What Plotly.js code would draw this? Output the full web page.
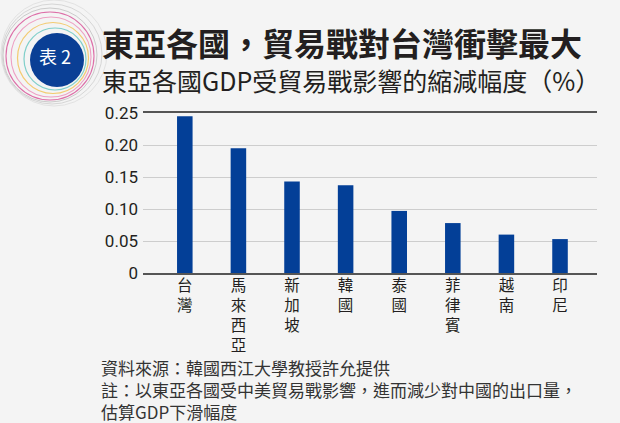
<!DOCTYPE html>
<html>
<head>
<meta charset="utf-8">
<script src="https://cdn.plot.ly/plotly-3.0.1.min.js"></script>
<style>
  html, body { margin: 0; padding: 0; background: #f4f4f4; }
  #chart { width: 620px; height: 423px; }
</style>
</head>
<body>
<div id="chart"></div>
<script>
// ---- data ----
const categories = ['台灣', '馬來西亞', '新加坡', '韓國', '泰國', '菲律賓', '越南', '印尼'];
const gdpDecline = [0.245, 0.195, 0.143, 0.137, 0.097, 0.078, 0.060, 0.053];
const yTickVals = [0, 0.05, 0.10, 0.15, 0.20, 0.25];
const yTickText = ['0', '0.05', '0.10', '0.15', '0.20', '0.25'];
const titleText = '東亞各國，貿易戰對台灣衝擊最大';
const subtitleText = '東亞各國GDP受貿易戰影響的縮減幅度（%）';
const badgeText = '表 2';
const footerLines = [
  '資料來源：韓國西江大學教授許允提供',
  '註：以東亞各國受中美貿易戰影響，進而減少對中國的出口量，',
  '估算GDP下滑幅度'
];

// ---- layout helpers (pixel -> paper) ----
const L = 143, T = 113, W = 454, H = 160;
const pxX = x => (x - L) / W;
const pxY = y => (T + H - y) / H;
const CJK = '"Noto Sans CJK TC", "Noto Sans CJK SC", sans-serif';

const xIdx = categories.map((_, i) => i);
const xTickText = categories.map(c => c.split('').join('<br>'));

const trace = {
  type: 'bar',
  x: xIdx,
  y: gdpDecline,
  width: 0.29,
  marker: { color: '#033f97' },
  hoverinfo: 'skip'
};

function ring(cx, cy, r, color, w) {
  return {
    type: 'circle', xref: 'paper', yref: 'paper',
    xsizemode: 'pixel', ysizemode: 'pixel',
    xanchor: pxX(cx), yanchor: pxY(cy),
    x0: -r, x1: r, y0: -r, y1: r,
    line: { color: color, width: w }, layer: 'below'
  };
}

const shapes = [
  ring(54, 53, 53, '#e2e2e2', 1),
  ring(52, 54, 50, '#d6d6d6', 1),
  ring(50, 55, 47, '#cbcbcb', 1),
  ring(50, 56, 44, '#dd6fa8', 1.1),
  ring(51, 57, 40, '#eea0c4', 1.1),
  ring(53, 58, 35.5, '#f3cb72', 1.2),
  ring(55, 59, 31, '#7fcfca', 1.2),
  {
    type: 'circle', xref: 'paper', yref: 'paper',
    xsizemode: 'pixel', ysizemode: 'pixel',
    xanchor: pxX(57), yanchor: pxY(60),
    x0: -27, x1: 27, y0: -27, y1: 27,
    line: { width: 0 }, fillcolor: '#0a3f95'
  }
];

const annotations = [
  { text: badgeText, xref: 'paper', yref: 'paper', x: pxX(55), y: pxY(56),
    xanchor: 'center', yanchor: 'middle', showarrow: false,
    font: { family: CJK, size: 18, color: '#ffffff' } },
  { text: '<b>' + titleText + '</b>', xref: 'paper', yref: 'paper', x: pxX(101), y: pxY(42),
    xanchor: 'left', yanchor: 'middle', showarrow: false, borderpad: 0,
    font: { family: CJK, size: 32, color: '#231f20' } },
  { text: subtitleText, xref: 'paper', yref: 'paper', x: pxX(101), y: pxY(80),
    xanchor: 'left', yanchor: 'middle', showarrow: false, borderpad: 0,
    font: { family: CJK, size: 25, color: '#231f20' } },
  { text: footerLines.join('<br>'), xref: 'paper', yref: 'paper', x: pxX(100), y: pxY(389),
    xanchor: 'left', yanchor: 'middle', align: 'left', showarrow: false, borderpad: 0,
    font: { family: CJK, size: 17, color: '#333333' } }
];

const layout = {
  width: 620, height: 423,
  margin: { l: L, r: 620 - L - W, t: T, b: 423 - T - H },
  paper_bgcolor: '#f4f4f4',
  plot_bgcolor: '#f4f4f4',
  showlegend: false,
  xaxis: {
    range: [-0.78, 7.69],
    tickmode: 'array', tickvals: xIdx, ticktext: xTickText,
    showgrid: false, zeroline: false,
    showline: true, linecolor: '#555555', linewidth: 2, mirror: true,
    ticks: '', ticklabelstandoff: -3,
    tickfont: { family: CJK, size: 15.5, color: '#231f20' },
    fixedrange: true
  },
  yaxis: {
    range: [0, 0.25],
    tickmode: 'array', tickvals: yTickVals, ticktext: yTickText,
    showgrid: true, gridcolor: '#cdcdcd', gridwidth: 1,
    zeroline: false, showline: false,
    ticks: '', ticklabelstandoff: 4,
    tickfont: { family: 'Roboto, "Liberation Sans", sans-serif', size: 17, color: '#231f20' },
    fixedrange: true
  },
  shapes: shapes,
  annotations: annotations
};

Plotly.newPlot('chart', [trace], layout, { displayModeBar: false, staticPlot: true });
</script>
</body>
</html>
